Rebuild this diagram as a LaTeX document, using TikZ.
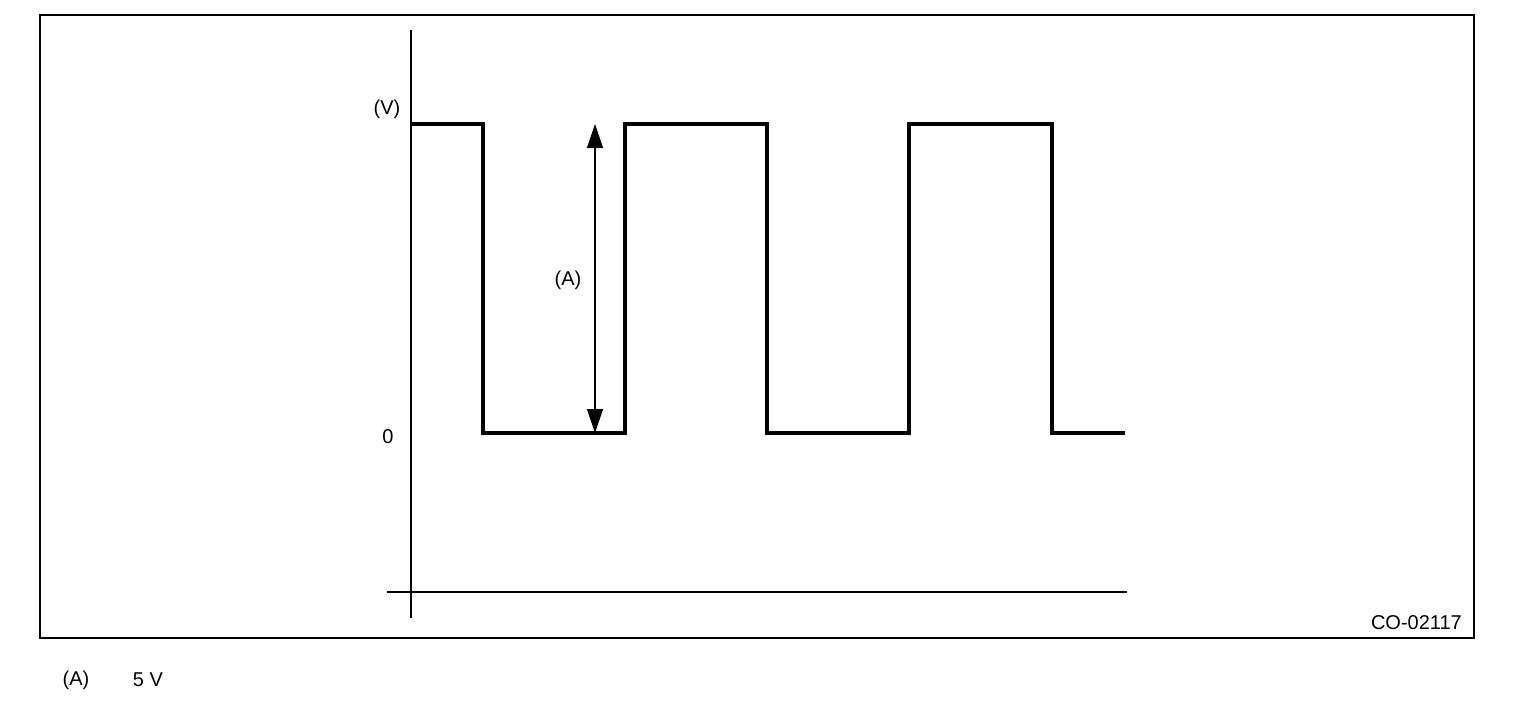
\documentclass[tikz,border=0pt]{standalone}
\usepackage{fontspec}
\setmainfont{Liberation Sans}
\usetikzlibrary{arrows.meta}
\begin{document}
\begin{tikzpicture}[x=1pt,y=-1pt,
  lbl/.style={inner sep=0pt,font=\fontsize{20}{22}\selectfont},
  wave/.style={line width=3.2pt,line join=miter},
  axis/.style={line width=2.2pt},
  dim/.style={line width=1.2pt,{Triangle[length=24pt,width=16pt]}-{Triangle[length=24pt,width=16pt]}}]
\useasboundingbox (0,0) rectangle (1520,704);
\draw[line width=1.6pt] (40,15) rectangle (1474,638);
% axes
\coordinate (yt) at (411,30);
\coordinate (yb) at (411,618);
\coordinate (xl) at (387,592);
\coordinate (xr) at (1127,592);
\draw[axis] (yt) -- (yb);
\draw[axis] (xl) -- (xr);
% waveform
\draw[wave] (411,124) -- (483,124) -- (483,433) -- (625,433) -- (625,124) -- (767,124)
  -- (767,433) -- (909,433) -- (909,124) -- (1052,124) -- (1052,433) -- (1125,433);
% dimension arrow
\coordinate (at) at (595,124);
\coordinate (ab) at (595,433);
\draw[dim] (at) -- (ab);
\node[lbl] (A) at (568,280) {(A)};
\node[lbl] (V) at (387,109) {(V)};
\node[lbl] (zero) at (388,437) {0};
\node[lbl,anchor=east] (code) at (1462,623) {CO-02117};
\node[lbl] (legA) at (76,680) {(A)};
\node[lbl] (legV) at (148,680) {5 V};
\end{tikzpicture}
\end{document}
